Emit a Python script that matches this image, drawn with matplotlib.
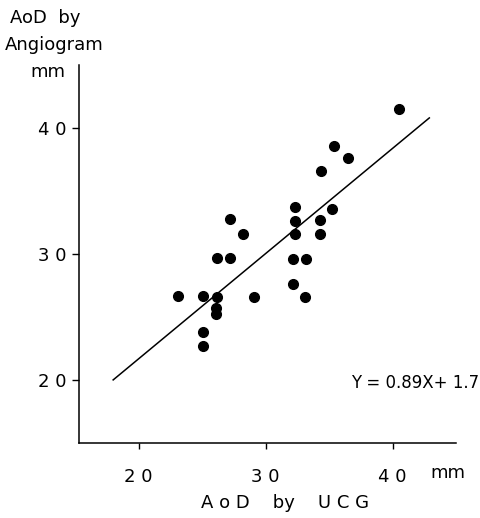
import matplotlib.pyplot as plt

# AoD by UCG (x) vs AoD by Angiogram (y), mm
ucg = [23.1, 25.1, 25.1, 25.1, 26.1, 26.1, 26.2, 26.2, 27.2, 27.2, 28.2, 29.1,
       32.2, 32.2, 32.3, 32.3, 32.3, 33.2, 33.1, 34.3, 34.3, 34.4, 35.2, 35.4,
       36.5, 40.5]
angio = [26.7, 23.8, 22.7, 26.7, 25.7, 25.2, 26.6, 29.7, 29.7, 32.8, 31.6, 26.6,
         27.6, 29.6, 31.6, 32.6, 33.7, 29.6, 26.6, 31.6, 32.7, 36.6, 33.6, 38.6,
         37.6, 41.5]

# regression line as drawn in the figure
fit_x = [18.0, 42.9]
fit_y = [20.0, 40.8]

xticks = [20, 30, 40]
yticks = [20, 30, 40]

plt.rcParams['font.family'] = ['DejaVu Sans']

fig = plt.figure(figsize=(4.81, 5.18), dpi=100)
ax = fig.add_axes([0.164, 0.145, 0.784, 0.7295])

ax.plot(fit_x, fit_y, color='black', linewidth=1.1)
ax.plot(ucg, angio, 'o', color='black', markersize=7)

ax.set_xlim(15.3, 45)
ax.set_ylim(15, 45)
ax.spines['top'].set_visible(False)
ax.spines['right'].set_visible(False)
ax.spines['left'].set_linewidth(1.1)
ax.spines['bottom'].set_linewidth(1.1)

ax.set_xticks(xticks)
ax.set_xticklabels([' '.join(str(t)) for t in xticks])
ax.set_yticks(yticks)
ax.set_yticklabels([' '.join(str(t)) for t in yticks])
ax.tick_params(axis='x', direction='out', length=4, width=1, pad=14, labelsize=13)
ax.tick_params(axis='y', direction='out', length=5, width=1, pad=4, labelsize=13)

fig.text(479 / 481, 1 - 383 / 518, 'Y = 0.89X+ 1.7', ha='right', va='center',
         fontsize=12)

fig.text(448 / 481, 1 - 473 / 518, 'mm', ha='center', va='center', fontsize=13)
fig.text(285 / 481, 1 - 503 / 518, 'A o D    by    U C G', ha='center', va='center',
         fontsize=13)

fig.text(10 / 481, 1 - 18 / 518, 'AoD  by', ha='left', va='center', fontsize=13)
fig.text(5 / 481, 1 - 45 / 518, 'Angiogram', ha='left', va='center', fontsize=13)
fig.text(48 / 481, 1 - 72 / 518, 'mm', ha='center', va='center', fontsize=13)

fig.savefig('out.png', dpi=100)
